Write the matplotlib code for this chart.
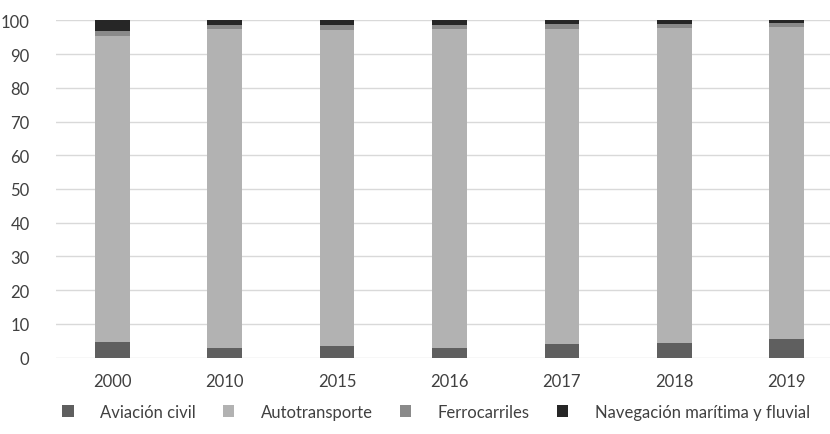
import matplotlib
matplotlib.use("Agg")
import matplotlib.pyplot as plt
import numpy as np

years = ["2000", "2010", "2015", "2016", "2017", "2018", "2019"]
aviacion = [4.6, 2.85, 3.5, 2.85, 4.0, 4.3, 5.6]
autotransporte = [90.8, 94.55, 93.7, 94.55, 93.4, 93.4, 92.5]
ferrocarriles = [1.4, 1.2, 1.4, 1.2, 1.4, 1.2, 1.0]
navegacion = [3.2, 1.4, 1.4, 1.4, 1.2, 1.1, 0.9]

series = [
    ("Aviación civil", aviacion, "#5f5f5f"),
    ("Autotransporte", autotransporte, "#b2b2b2"),
    ("Ferrocarriles", ferrocarriles, "#8a8a8a"),
    ("Navegación marítima y fluvial", navegacion, "#262626"),
]

plt.rcParams["font.family"] = ["Lato", "DejaVu Sans"]

fig = plt.figure(figsize=(8.3, 4.35), dpi=100)
ax = fig.add_axes([56 / 830, 1 - 358.7 / 435, 787 / 830, 337.4 / 435])

x = np.arange(len(years))
bottom = np.zeros(len(years))
handles = []
for name, vals, color in series:
    b = ax.bar(x, vals, width=0.31, bottom=bottom, color=color, label=name,
               edgecolor="none", zorder=3)
    bottom += np.array(vals)
    handles.append(b)

ax.set_xlim(-0.5, len(years) - 0.5)
ax.set_ylim(0, 100)
ax.set_yticks(np.arange(0, 101, 10))
ax.set_xticks(x)
ax.set_xticklabels(years)
ax.grid(axis="y", color="#d9d9d9", linewidth=1, zorder=0)
ax.set_axisbelow(True)
for s in ["top", "right", "left", "bottom"]:
    ax.spines[s].set_visible(False)
ax.tick_params(axis="both", length=0, labelsize=12, colors="#404040")
ax.tick_params(axis="y", pad=19)
ax.tick_params(axis="x", pad=11)

fig.legend(handles=handles, loc="center", bbox_to_anchor=(436 / 830, 1 - 413 / 435),
           ncol=4, frameon=False, fontsize=12, handlelength=0.7, handleheight=0.7,
           handletextpad=1.6, columnspacing=1.6, labelcolor="#404040")

fig.savefig("out.png", dpi=100)
